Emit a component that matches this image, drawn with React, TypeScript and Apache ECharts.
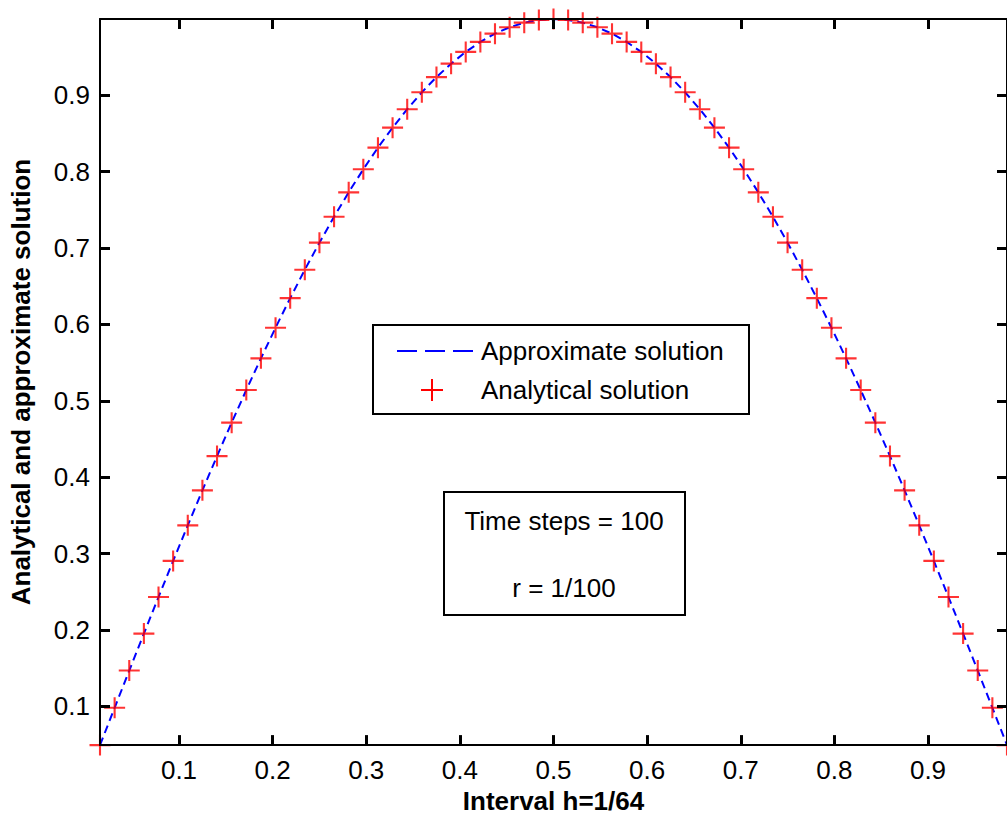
import React, { useEffect, useRef } from "react";
import * as echarts from "echarts";

const xValues = [
  0.015625, 0.03125, 0.046875, 0.0625, 0.078125, 0.09375, 0.109375, 0.125,
  0.140625, 0.15625, 0.171875, 0.1875, 0.203125, 0.21875, 0.234375, 0.25,
  0.265625, 0.28125, 0.296875, 0.3125, 0.328125, 0.34375, 0.359375, 0.375,
  0.390625, 0.40625, 0.421875, 0.4375, 0.453125, 0.46875, 0.484375, 0.5,
  0.515625, 0.53125, 0.546875, 0.5625, 0.578125, 0.59375, 0.609375, 0.625,
  0.640625, 0.65625, 0.671875, 0.6875, 0.703125, 0.71875, 0.734375, 0.75,
  0.765625, 0.78125, 0.796875, 0.8125, 0.828125, 0.84375, 0.859375, 0.875,
  0.890625, 0.90625, 0.921875, 0.9375, 0.953125, 0.96875, 0.984375,
];

const analytical = [
  0.0491, 0.098, 0.1467, 0.1951, 0.243, 0.2903, 0.3369, 0.3827,
  0.4276, 0.4714, 0.5141, 0.5556, 0.5957, 0.6344, 0.6716, 0.7071,
  0.741, 0.773, 0.8032, 0.8315, 0.8577, 0.8819, 0.904, 0.9239,
  0.9415, 0.9569, 0.97, 0.9808, 0.9892, 0.9952, 0.9988, 1.0,
  0.9988, 0.9952, 0.9892, 0.9808, 0.97, 0.9569, 0.9415, 0.9239,
  0.904, 0.8819, 0.8577, 0.8315, 0.8032, 0.773, 0.741, 0.7071,
  0.6716, 0.6344, 0.5957, 0.5556, 0.5141, 0.4714, 0.4276, 0.3827,
  0.3369, 0.2903, 0.243, 0.1951, 0.1467, 0.098, 0.0491,
];

const approximate = [
  0.0491, 0.098, 0.1467, 0.1951, 0.243, 0.2903, 0.3369, 0.3827,
  0.4276, 0.4714, 0.5141, 0.5556, 0.5957, 0.6344, 0.6716, 0.7071,
  0.741, 0.773, 0.8032, 0.8315, 0.8577, 0.8819, 0.904, 0.9239,
  0.9415, 0.9569, 0.97, 0.9808, 0.9892, 0.9952, 0.9988, 1.0,
  0.9988, 0.9952, 0.9892, 0.9808, 0.97, 0.9569, 0.9415, 0.9239,
  0.904, 0.8819, 0.8577, 0.8315, 0.8032, 0.773, 0.741, 0.7071,
  0.6716, 0.6344, 0.5957, 0.5556, 0.5141, 0.4714, 0.4276, 0.3827,
  0.3369, 0.2903, 0.243, 0.1951, 0.1467, 0.098, 0.0491,
];

const xTicks = [0.1, 0.2, 0.3, 0.4, 0.5, 0.6, 0.7, 0.8, 0.9];
const yTicks = [0.1, 0.2, 0.3, 0.4, 0.5, 0.6, 0.7, 0.8, 0.9];
const xRange = [0.015625, 0.984375];
const yRange = [0.0491, 1.0];

const FONT = "'Liberation Sans', Arial, Helvetica, sans-serif";
const PLUS = "path://M9,0 H11 V9 H20 V11 H11 V20 H9 V11 H0 V9 H9 Z";

export default function App() {
  const ref = useRef<HTMLDivElement>(null);
  useEffect(() => {
    if (!ref.current) return;
    const chart = echarts.init(ref.current, undefined, { renderer: "svg" });
    const axisLine = { show: true, lineStyle: { color: "#000", width: 2 } };
    const tick = (vals: number[]) => ({
      show: true,
      inside: true,
      length: 10,
      lineStyle: { color: "#000", width: 3 },
      customValues: vals,
    });
    const fmt = (v: number) => v.toFixed(1);
    const txt = (x: number, y: number, text: string, align: string) => ({
      type: "text",
      x,
      y,
      z: 11,
      style: {
        text,
        font: `26px ${FONT}`,
        fill: "#000",
        align,
        verticalAlign: "middle",
      },
    });
    const option: any = {
      animation: false,
      backgroundColor: "#fff",
      textStyle: { fontFamily: FONT },
      grid: { left: 100, top: 19, width: 909, height: 729, containLabel: false },
      xAxis: [
        {
          type: "value",
          min: xRange[0],
          max: xRange[1],
          position: "bottom",
          name: "Interval h=1/64",
          nameLocation: "middle",
          nameGap: 40,
          nameTextStyle: { fontFamily: FONT, fontSize: 26, fontWeight: "bold", color: "#000", verticalAlign: "top" },
          axisLine,
          axisTick: tick(xTicks),
          axisLabel: { show: true, customValues: xTicks, formatter: fmt, fontFamily: FONT, fontSize: 26, color: "#000", margin: 12 },
          splitLine: { show: false },
          z: 5,
        },
        {
          type: "value",
          min: xRange[0],
          max: xRange[1],
          position: "top",
          axisLine,
          axisTick: tick(xTicks),
          axisLabel: { show: false },
          splitLine: { show: false },
          z: 5,
        },
      ],
      yAxis: [
        {
          type: "value",
          min: yRange[0],
          max: yRange[1],
          position: "left",
          name: "Analytical and approximate solution",
          nameLocation: "middle",
          nameGap: 66,
          nameRotate: 90,
          nameTextStyle: { fontFamily: FONT, fontSize: 26, fontWeight: "bold", color: "#000" },
          axisLine,
          axisTick: tick(yTicks),
          axisLabel: { show: true, customValues: yTicks, formatter: fmt, fontFamily: FONT, fontSize: 26, color: "#000", margin: 10 },
          splitLine: { show: false },
          z: 5,
        },
        {
          type: "value",
          min: yRange[0],
          max: yRange[1],
          position: "right",
          axisLine,
          axisTick: tick(yTicks),
          axisLabel: { show: false },
          splitLine: { show: false },
          z: 5,
        },
      ],
      series: [
        {
          name: "Approximate solution",
          type: "line",
          xAxisIndex: 0,
          yAxisIndex: 0,
          data: xValues.map((x, i) => [x, approximate[i]]),
          showSymbol: false,
          symbol: "none",
          lineStyle: { color: "#0000ff", width: 2, type: [8, 5] },
          z: 2,
        },
        {
          name: "Analytical solution",
          type: "scatter",
          xAxisIndex: 0,
          yAxisIndex: 0,
          data: xValues.map((x, i) => [x, analytical[i]]),
          symbol: PLUS,
          symbolSize: 21,
          itemStyle: { color: "#ff0000" },
          clip: false,
          z: 3,
        },
      ],
      graphic: [
        { type: "rect", z: 10, shape: { x: 373, y: 325, width: 376, height: 89 }, style: { fill: "#fff", stroke: "#000", lineWidth: 2 } },
        { type: "line", z: 11, shape: { x1: 397, y1: 351, x2: 473, y2: 351 }, style: { stroke: "#0000ff", lineWidth: 2, lineDash: [20, 8] } },
        txt(481, 351, "Approximate solution", "left"),
        { type: "line", z: 11, shape: { x1: 421, y1: 390, x2: 443, y2: 390 }, style: { stroke: "#ff0000", lineWidth: 2 } },
        { type: "line", z: 11, shape: { x1: 432, y1: 379, x2: 432, y2: 401 }, style: { stroke: "#ff0000", lineWidth: 2 } },
        txt(481, 390, "Analytical solution", "left"),
        { type: "rect", z: 10, shape: { x: 444, y: 492, width: 241, height: 123 }, style: { fill: "#fff", stroke: "#000", lineWidth: 2 } },
        txt(564, 521, "Time steps = 100", "center"),
        txt(564, 588, "r = 1/100", "center"),
      ],
    };
    chart.setOption(option);
    return () => chart.dispose();
  }, []);
  return (
    <div
      ref={ref}
      style={{ position: "fixed", left: 0, top: 0, width: 1007, height: 819, background: "#fff" }}
    />
  );
}
